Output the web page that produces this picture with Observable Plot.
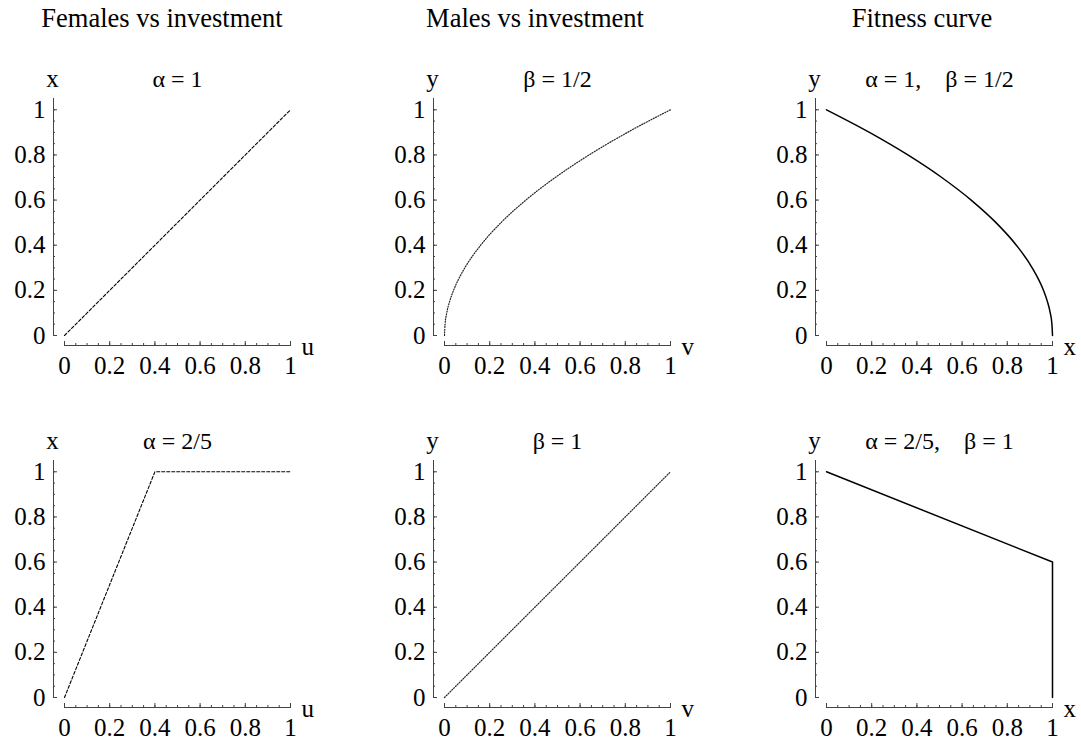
<!DOCTYPE html>
<html><head><meta charset="utf-8">
<script src="https://cdn.jsdelivr.net/npm/d3@7"></script>
<script src="https://cdn.jsdelivr.net/npm/@observablehq/plot@0.6"></script>
<style>
body{margin:0;background:#fff;font-family:"Liberation Serif","Times New Roman",serif;}
#root{position:relative;width:1081px;height:744px;overflow:hidden;background:#fff;}
.ct{position:absolute;top:5px;font-size:26.5px;line-height:1;transform:translateX(-50%);white-space:nowrap;color:#000;}
.panel{position:absolute;}
</style></head><body><div id="root"></div>
<script>
// ---- text ----
const columnTitles = ["Females vs investment", "Males vs investment", "Fitness curve"];
const columnTitleCenters = [162, 535, 922];
const panelTitles = [
  ["α = 1", "β = 1/2", "α = 1,\u2003β = 1/2"],
  ["α = 2/5", "β = 1", "α = 2/5,\u2003β = 1"]
];
const xAxisLabels = ["u", "v", "x"];
const yAxisLabels = ["x", "y", "y"];

// ---- ticks ----
const majorTicks = [0, 0.2, 0.4, 0.6, 0.8, 1];
const tickLabels = ["0", "0.2", "0.4", "0.6", "0.8", "1"];
const minorTicks = [0, 0.05, 0.1, 0.15, 0.2, 0.25, 0.3, 0.35, 0.4, 0.45, 0.5, 0.55, 0.6, 0.65, 0.7, 0.75, 0.8, 0.85, 0.9, 0.95, 1];

// ---- series ----
// Females vs investment, alpha = 1
const femA1_u = [0, 1];
const femA1_x = [0, 1];
// Females vs investment, alpha = 2/5
const femA25_u = [0, 0.4, 1];
const femA25_x = [0, 1, 1];
// Males vs investment, beta = 1/2
const maleB12_v = [0, 0.0025, 0.01, 0.0225, 0.04, 0.0625, 0.09, 0.16, 0.25, 0.36, 0.49, 0.64, 0.81, 1];
const maleB12_y = [0, 0.05, 0.1, 0.15, 0.2, 0.25, 0.3, 0.4, 0.5, 0.6, 0.7, 0.8, 0.9, 1];
// Males vs investment, beta = 1
const maleB1_v = [0, 1];
const maleB1_y = [0, 1];
// Fitness curve, alpha = 1, beta = 1/2
const fitA1_x = [0, 0.19, 0.36, 0.51, 0.64, 0.75, 0.84, 0.91, 0.96, 0.9775, 0.99, 0.9975, 1];
const fitA1_y = [1, 0.9, 0.8, 0.7, 0.6, 0.5, 0.4, 0.3, 0.2, 0.15, 0.1, 0.05, 0];
// Fitness curve, alpha = 2/5, beta = 1
const fitA25_x = [0, 1, 1];
const fitA25_y = [1, 0.6, 0];

const series = [
  [{x: femA1_u, y: femA1_x}, {x: maleB12_v, y: maleB12_y}, {x: fitA1_x, y: fitA1_y}],
  [{x: femA25_u, y: femA25_x}, {x: maleB1_v, y: maleB1_y}, {x: fitA25_x, y: fitA25_y}]
];
const curves = [["linear", "monotone-x", "monotone-x"], ["linear", "linear", "linear"]];
const lineStyles = [
  {strokeWidth: 1.1, strokeDasharray: "3,2", stroke: "#000"},
  {strokeWidth: 1.2, strokeDasharray: "1,1.6", stroke: "#222"},
  {strokeWidth: 1.5, strokeDasharray: null, stroke: "#000"}
];

const colLeft = [0, 380, 762];
const rowTop = [50, 412];
const axisColor = "#444";
const fmt = d => tickLabels[majorTicks.indexOf(d)];

const root = document.getElementById("root");

columnTitles.forEach((t, i) => {
  const d = document.createElement("div");
  d.className = "ct";
  d.style.left = columnTitleCenters[i] + "px";
  d.textContent = t;
  root.appendChild(d);
});

for (let r = 0; r < 2; r++) {
  for (let c = 0; c < 3; c++) {
    const s = series[r][c];
    const data = s.x.map((x, i) => ({x, y: s.y[i]}));
    const st = lineStyles[c];
    const plot = Plot.plot({
      width: 318, height: 333,
      marginLeft: 64, marginRight: 28, marginTop: 48, marginBottom: 48,
      style: {fontFamily: "'Liberation Serif', serif", fontSize: "25px", background: "transparent", overflow: "visible", color: "#000", maxWidth: "none"},
      x: {domain: [0, 1]},
      y: {domain: [0, 1.05]},
      marks: [
        Plot.frame({anchor: "left", dx: -11, stroke: axisColor}),
        Plot.frame({anchor: "bottom", dy: 10, stroke: axisColor}),
        Plot.axisY(minorTicks, {anchor: "left", tickSize: -2, dx: -11, fill: "none", stroke: axisColor, label: null}),
        Plot.axisY(majorTicks, {anchor: "left", tickSize: -4, dx: -11, tickPadding: 12, tickFormat: fmt, fontSize: 25, fontFamily: "Liberation Serif", stroke: axisColor, fill: "#000", label: null}),
        Plot.axisX(minorTicks, {anchor: "bottom", tickSize: -2, dy: 10, fill: "none", stroke: axisColor, label: null}),
        Plot.axisX(majorTicks, {anchor: "bottom", tickSize: -4, dy: 10, tickPadding: 15, tickFormat: fmt, fontSize: 25, fontFamily: "Liberation Serif", stroke: axisColor, fill: "#000", label: null}),
        Plot.line(data, {x: "x", y: "y", stroke: st.stroke, strokeWidth: st.strokeWidth, strokeDasharray: st.strokeDasharray, curve: curves[r][c]}),
        Plot.text([panelTitles[r][c]], {text: d => d, frameAnchor: "top", dy: -12, lineAnchor: "bottom", fontSize: 24, fontFamily: "Liberation Serif", fill: "#000"}),
        Plot.text([yAxisLabels[c]], {text: d => d, frameAnchor: "top-left", dx: -12, dy: -12, lineAnchor: "bottom", textAnchor: "middle", fontSize: 25, fontFamily: "Liberation Serif", fill: "#000"}),
        Plot.text([xAxisLabels[c]], {text: d => d, frameAnchor: "bottom-right", dx: 11, dy: 11, lineAnchor: "middle", textAnchor: "start", fontSize: 25, fontFamily: "Liberation Serif", fill: "#000"})
      ]
    });
    const wrap = document.createElement("div");
    wrap.className = "panel";
    wrap.style.left = colLeft[c] + "px";
    wrap.style.top = rowTop[r] + "px";
    wrap.appendChild(plot);
    root.appendChild(wrap);
  }
}
</script>
</body></html>
